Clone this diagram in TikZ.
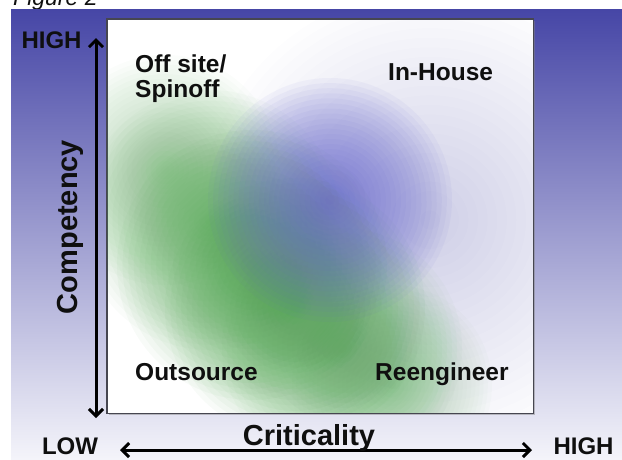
\documentclass[tikz,border=0pt]{standalone}
\usepackage{fontspec}
\setmainfont{Liberation Sans}
\usetikzlibrary{arrows.meta,shadows}

\definecolor{panelTop}{RGB}{70,70,166}
\definecolor{panelBottom}{RGB}{244,244,250}
\definecolor{hazeBlue}{RGB}{100,100,206}
\definecolor{hazeGreen}{RGB}{80,168,80}
\definecolor{ink}{RGB}{15,15,15}
\definecolor{frame}{RGB}{70,70,80}

% soft spot built from stacked translucent discs:
% #1 colour, #2/#3 centre, #4 radius, #5 opacity of each disc
\newcommand\hazespot[5]{%
  \foreach \k in {1,...,24}
    \fill[#1, fill opacity=#5] (#2,#3) circle ({#4*\k/24});}

\begin{document}
\begin{tikzpicture}[x=1pt,y=-1pt,
  quadrant/.style={font=\fontsize{24.5}{25}\selectfont\bfseries, text=ink, inner sep=0pt, align=left},
  scale label/.style={font=\fontsize{24}{24}\selectfont\bfseries, text=ink, inner sep=0pt},
  axis title/.style={font=\fontsize{29}{29}\selectfont\bfseries, text=ink, inner sep=0pt},
  axis arrow/.style={line width=3pt, draw=black,
    {Straight Barb[length=7pt,width=14pt]}-{Straight Barb[length=7pt,width=14pt]}},
  fieldbox/.style={draw=frame, line width=1pt, fill=white, minimum width=426pt, minimum height=394pt,
    inner sep=0pt, drop shadow={shadow xshift=2pt, shadow yshift=-2pt, opacity=0.45}}]

\useasboundingbox (0,0) rectangle (622,459);
\clip (0,0) rectangle (622,459);

% caption, partly cut off at the top edge
\node[anchor=base west, inner sep=0pt, font=\fontsize{23}{23}\selectfont\itshape, text=ink] (caption) at (13,5) {Figure 2};

% backdrop panel
\shade[top color=panelTop, bottom color=panelBottom] (11,9) rectangle (622,459);

% the field
\node[fieldbox] (field) at (320,216) {};

\begin{scope}
  \clip (field.north west) rectangle (field.south east);
  % faint lavender wash over the right half
  \hazespot{hazeBlue}{430}{220}{230}{0.0119}
  % green band along the diagonal
  \hazespot{hazeGreen}{165}{170}{115}{0.0178}
  \hazespot{hazeGreen}{210}{220}{130}{0.0285}
  \hazespot{hazeGreen}{252}{265}{135}{0.0375}
  \hazespot{hazeGreen}{295}{308}{130}{0.0375}
  \hazespot{hazeGreen}{342}{348}{120}{0.0285}
  \hazespot{hazeGreen}{392}{385}{100}{0.0178}
  % blue spot above the band
  \hazespot{hazeBlue}{330}{200}{122}{0.0561}
\end{scope}
\draw[draw=frame, line width=1pt] (field.north west) rectangle (field.south east);

% quadrant labels
\node[quadrant, anchor=north west] (offsite) at (135,54.5) {Off site/\\Spinoff};
\node[quadrant, anchor=base west] (inhouse) at (388,80) {In-House};
\node[quadrant, anchor=base west] (outsource) at (135,380) {Outsource};
\node[quadrant, anchor=base west] (reengineer) at (375,380) {Reengineer};

% axes
\coordinate (vtop) at (96,38);
\coordinate (vbot) at (96,418);
\draw[axis arrow] (vbot) -- (vtop);
\coordinate (hleft) at (120,450);
\coordinate (hright) at (532,450);
\draw[axis arrow] (hleft) -- (hright);

\node[scale label, anchor=base] (hightop) at (51.5,48) {HIGH};
\node[scale label, anchor=base] (low) at (70,454) {LOW};
\node[scale label, anchor=base] (highright) at (583.5,454) {HIGH};

\node[axis title, anchor=base] (criticality) at (309,445) {Criticality};
\node[axis title, anchor=base, rotate=90] (competency) at (77,227) {Competency};

\end{tikzpicture}
\end{document}
